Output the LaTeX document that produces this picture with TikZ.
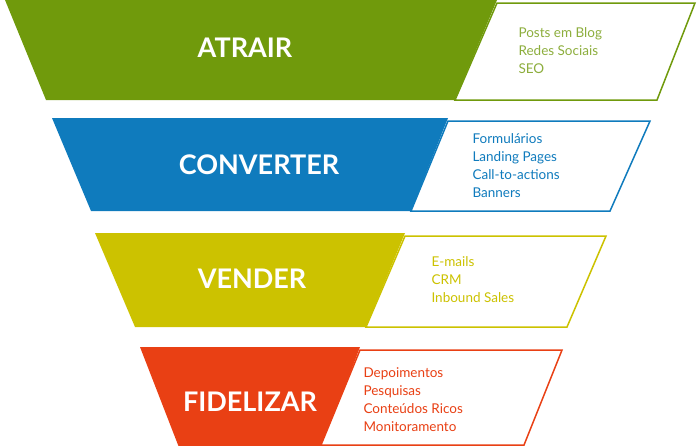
\documentclass[tikz,border=0pt]{standalone}
\usepackage{fontspec}
\setmainfont{Lato}
\definecolor{cg}{HTML}{709A0C}
\definecolor{cb}{HTML}{0F7BBD}
\definecolor{cy}{HTML}{CCC200}
\definecolor{cr}{HTML}{E94014}
\begin{document}
\begin{tikzpicture}[x=1pt,y=-1pt,
  title/.style={text=white,font=\bfseries\fontsize{27}{30}\selectfont,anchor=center},
  items/.style={anchor=west,align=left,font=\fontsize{13.5}{18}\selectfont},
  box/.style={draw=#1,line width=1.5pt,fill=white}]
\useasboundingbox (0,0) rectangle (700,445);
% green
\fill[cg] (5,0) -- (497,0) -- (455,100) -- (46,100) -- cycle;
\draw[box=cg] (497,3) -- (695,3) -- (657,100) -- (455,100) -- cycle;
\node[title] (t1) at (245,48) {ATRAIR};
\node[items,text=cg!80] (l1) at (515,51) {Posts em Blog\\Redes Sociais\\SEO};
% blue
\fill[cb] (52,118) -- (448,118) -- (411,211) -- (91,211) -- cycle;
\draw[box=cb] (448,121) -- (650,121) -- (610,211) -- (411,211) -- cycle;
\node[title] (t2) at (259,165) {CONVERTER};
\node[items,text=cb] (l2) at (469,166) {Formulários\\Landing Pages\\Call-to-actions\\Banners};
% yellow
\fill[cy] (95,233) -- (405,233) -- (366,327) -- (135,327) -- cycle;
\draw[box=cy] (405,236) -- (606,236) -- (567,327) -- (366,327) -- cycle;
\node[title] (t3) at (252,279) {VENDER};
\node[items,text=cy] (l3) at (428,280) {E-mails\\CRM\\Inbound Sales};
% red
\fill[cr] (140,347) -- (360,347) -- (321,450) -- (180,450) -- cycle;
\draw[box=cr] (360,350) -- (562,350) -- (524,445) -- (321,445) -- cycle;
\node[title] (t4) at (250,402) {FIDELIZAR};
\node[items,text=cr] (l4) at (360,400) {Depoimentos\\Pesquisas\\Conteúdos Ricos\\Monitoramento};
\end{tikzpicture}
\end{document}
